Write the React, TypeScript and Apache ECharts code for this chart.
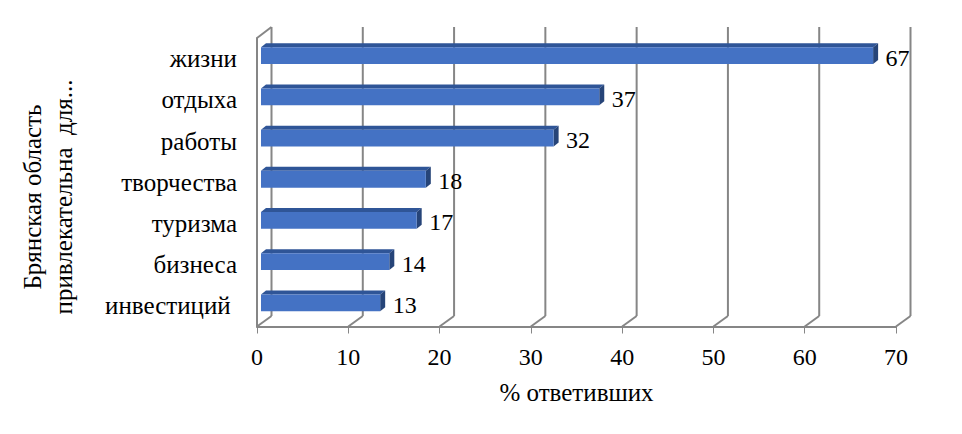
import React, { useEffect, useRef } from "react";
import * as echarts from "echarts";

const categories = ["жизни", "отдыха", "работы", "творчества", "туризма", "бизнеса", "инвестиций "];
const values = [67, 37, 32, 18, 17, 14, 13];
const ticks = [0, 10, 20, 30, 40, 50, 60, 70];
const xAxisTitle = "% ответивших";
const yAxisTitle = "Брянская область\nпривлекательна  для...";

const FONT = '"Liberation Serif", "Times New Roman", serif';
const WALL = "#868686";
const SIZE = 24;
const TEXT_SIZE = 25;

export default function App() {
  const ref = useRef<HTMLDivElement>(null);
  useEffect(() => {
    const chart = echarts.init(ref.current!, undefined, { renderer: "svg", width: 962, height: 434 });
    const wallStyle = { stroke: WALL, lineWidth: 2, fill: "none" };
    const line = (x1: number, y1: number, x2: number, y2: number) => ({
      type: "line",
      shape: { x1, y1, x2, y2 },
      style: wallStyle,
    });
    chart.setOption({
      animation: false,
      backgroundColor: "#ffffff",
      grid: { left: 257, right: 66, top: 38, height: 288.5 },
      xAxis: {
        type: "value",
        min: 0,
        max: 70,
        interval: 10,
        splitLine: { show: false },
        axisLine: { show: true, lineStyle: { color: WALL, width: 2 } },
        axisTick: { show: true, length: 7, lineStyle: { color: WALL, width: 1 } },
        axisLabel: { color: "#000", fontFamily: FONT, fontSize: SIZE, margin: 18 },
        name: xAxisTitle,
        nameLocation: "middle",
        nameGap: 53,
        nameTextStyle: { color: "#000", fontFamily: FONT, fontSize: TEXT_SIZE },
      },
      yAxis: {
        type: "category",
        inverse: true,
        data: categories,
        axisLine: { show: true, lineStyle: { color: WALL, width: 2 } },
        axisTick: { show: false },
        axisLabel: { color: "#000", fontFamily: FONT, fontSize: TEXT_SIZE, margin: 20, padding: [3, 0, 0, 0] },
      },
      graphic: [
        {
          type: "text",
          x: 47.5,
          y: 197,
          rotation: Math.PI / 2,
          style: {
            text: yAxisTitle,
            fontFamily: FONT,
            fontSize: TEXT_SIZE,
            lineHeight: 31,
            fill: "#000",
            align: "center",
            verticalAlign: "middle",
          },
        },
      ],
      series: [
        {
          type: "custom",
          coordinateSystem: "cartesian2d",
          clip: false,
          z: 1,
          data: ticks.map((t) => [t, 0]),
          encode: { x: 0, y: 1 },
          renderItem: (params: any, api: any) => {
            const x = api.coord([api.value(0), 0])[0];
            const top = params.coordSys.y;
            const bottom = top + params.coordSys.height;
            const children: any[] = [
              line(x, bottom, x + 14.5, bottom - 10.5),
              line(x + 14.5, bottom - 10.5, x + 14.5, top - 11),
            ];
            if (api.value(0) === 0) children.push(line(x, top, x + 14.5, top - 11));
            return { type: "group", children };
          },
        },
        {
          type: "custom",
          coordinateSystem: "cartesian2d",
          clip: false,
          z: 2,
          data: values.map((v, i) => [v, i]),
          encode: { x: 0, y: 1, label: 0 },
          renderItem: (params: any, api: any) => {
            const end = api.coord([api.value(0), api.value(1)]);
            const start = api.coord([0, api.value(1)]);
            const h = 16.8;
            const x0 = start[0] + 4;
            const x1 = end[0] + 4.5;
            const yTop = end[1] - 3 - h / 2;
            const yBot = yTop + h;
            const dx = 5;
            const dy = -4;
            return {
              type: "group",
              children: [
                {
                  type: "polygon",
                  shape: { points: [[x0, yTop], [x0 + dx, yTop + dy], [x1 + dx, yTop + dy], [x1, yTop]] },
                  style: { fill: "#2F5597" },
                },
                {
                  type: "polygon",
                  shape: { points: [[x1, yTop], [x1 + dx, yTop + dy], [x1 + dx, yBot + dy], [x1, yBot]] },
                  style: { fill: "#264478" },
                },
                {
                  type: "rect",
                  shape: { x: x0, y: yTop, width: x1 - x0, height: h },
                  style: { fill: "#4472C4" },
                },
                {
                  type: "text",
                  x: x1 + dx + 7.5,
                  y: end[1] - 1,
                  style: {
                    text: String(api.value(0)),
                    fontFamily: FONT,
                    fontSize: SIZE,
                    fill: "#000",
                    align: "left",
                    verticalAlign: "middle",
                  },
                },
              ],
            };
          },
        },
      ],
    });
    return () => chart.dispose();
  }, []);
  return <div ref={ref} style={{ position: "absolute", left: 0, top: 0, width: 962, height: 434 }} />;
}
